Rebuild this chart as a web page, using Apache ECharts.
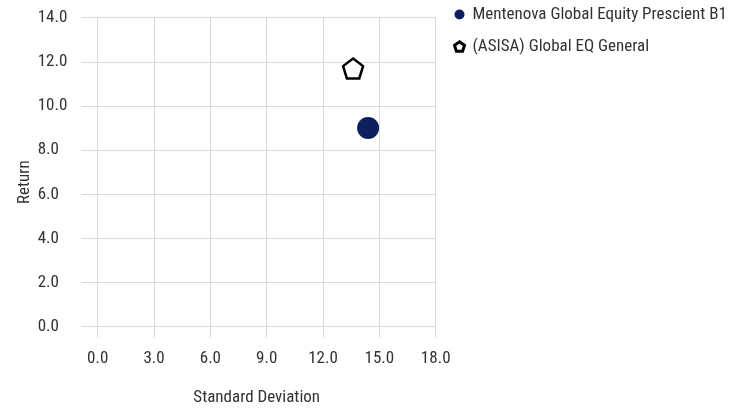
<!DOCTYPE html>
<html><head><meta charset="utf-8">
<script src="https://cdn.jsdelivr.net/npm/echarts@6/dist/echarts.min.js"></script>
<style>html,body{margin:0;padding:0;background:#fff}#c{width:743px;height:409px}</style>
</head><body><div id="c"></div>
<script>
const xTicks = [0, 3, 6, 9, 12, 15, 18];
const yTicks = [0, 2, 4, 6, 8, 10, 12, 14];
const seriesNames = ['Mentenova Global Equity Prescient B1', '(ASISA) Global EQ General'];
const fundPoint = [14.4, 9.0];
const categoryPoint = [13.6, 11.7];

const FONT = '"Liberation Sans Narrow", "Roboto Condensed", "DejaVu Sans Condensed", sans-serif';
const pentagon = 'path://M50,2 L97.6,36.6 L79.4,92.6 L20.6,92.6 L2.4,36.6 Z';
const chart = echarts.init(document.getElementById('c'));
chart.setOption({
  animation: false,
  textStyle: { fontFamily: FONT, color: '#333' },
  grid: { left: 97.7, right: 307.3, top: 17.7, bottom: 82.3, containLabel: false, outerBoundsMode: 'none' },
  legend: {
    orient: 'vertical', left: 448, top: 1, itemGap: 15,
    itemWidth: 10, itemHeight: 10,
    textStyle: { fontFamily: FONT, fontSize: 17, color: '#333', padding: [0, 0, 0, 3] },
    data: [
      { name: seriesNames[0], icon: 'circle' },
      { name: seriesNames[1], icon: pentagon, itemStyle: { color: '#fff', borderColor: '#000', borderWidth: 3 } }
    ]
  },
  xAxis: {
    type: 'value', min: xTicks[0], max: xTicks[xTicks.length - 1], interval: 3,
    name: 'Standard Deviation', nameLocation: 'middle', nameGap: 63,
    nameTextStyle: { fontFamily: FONT, fontSize: 17, color: '#333', padding: [0, 20, 0, 0] },
    axisLine: { show: false },
    axisTick: { show: true, length: 11, lineStyle: { color: '#d9d9d9' } },
    splitLine: { show: true, lineStyle: { color: '#d9d9d9', width: 1 } },
    axisLabel: { fontFamily: FONT, fontSize: 17, color: '#333', margin: 24, formatter: v => v.toFixed(1) }
  },
  yAxis: {
    type: 'value', min: yTicks[0], max: yTicks[yTicks.length - 1], interval: 2,
    name: 'Return', nameLocation: 'middle', nameGap: 64,
    nameTextStyle: { fontFamily: FONT, fontSize: 17, color: '#333', padding: [0, 20, 0, 0] },
    axisLine: { show: false },
    axisTick: { show: true, length: 16, lineStyle: { color: '#d9d9d9' } },
    splitLine: { show: true, lineStyle: { color: '#d9d9d9', width: 1 } },
    axisLabel: { fontFamily: FONT, fontSize: 17, color: '#333', margin: 60, align: 'left', formatter: v => v.toFixed(1) }
  },
  series: [
    {
      name: seriesNames[0], type: 'scatter', symbol: 'circle', symbolSize: 22,
      itemStyle: { color: '#0c1f5e', opacity: 1 },
      data: [fundPoint], z: 3
    },
    {
      name: seriesNames[1], type: 'scatter', symbol: pentagon, symbolSize: 20,
      itemStyle: { color: '#fff', borderColor: '#000', borderWidth: 2.5, opacity: 1 },
      data: [categoryPoint], z: 4
    }
  ]
});
</script></body></html>
